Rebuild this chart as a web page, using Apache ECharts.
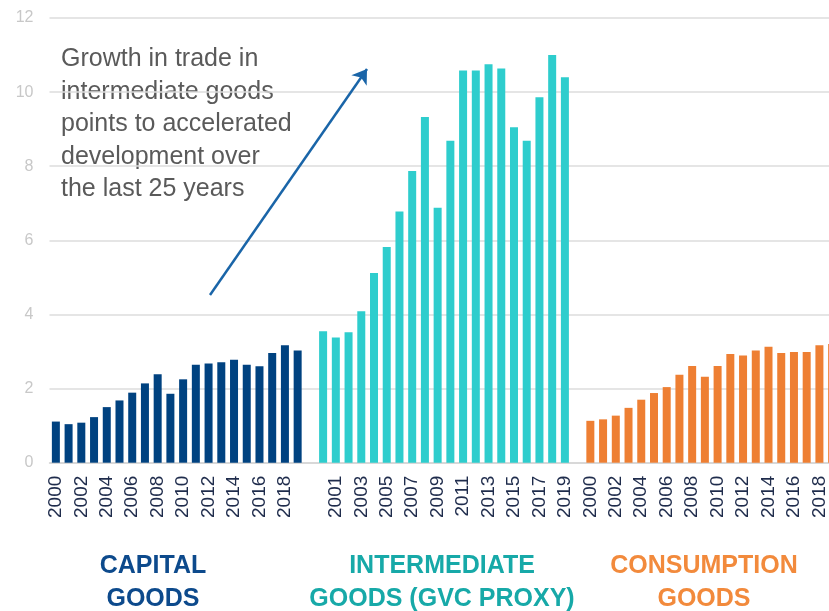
<!DOCTYPE html>
<html>
<head>
<meta charset="utf-8">
<script src="https://cdn.jsdelivr.net/npm/echarts@6/dist/echarts.min.js"></script>
<style>
  html, body { margin: 0; padding: 0; background: #fff; overflow: hidden; }
  /* wider than the window: the last bar is cut at the right edge */
  #chart { width: 842px; height: 611px; }
</style>
</head>
<body>
<div id="chart"></div>
<script>
// years on each group, 2000-2019
const years = ['2000','2001','2002','2003','2004','2005','2006','2007','2008','2009',
  '2010','2011','2012','2013','2014','2015','2016','2017','2018','2019']
// values
const capitalGoods = [1.11, 1.04, 1.08, 1.23, 1.50, 1.68, 1.89, 2.14, 2.39, 1.86,
  2.25, 2.64, 2.68, 2.71, 2.78, 2.64, 2.60, 2.96, 3.17, 3.03]
const intermediateGoods = [3.55, 3.38, 3.52, 4.09, 5.12, 5.82, 6.78, 7.87, 9.33, 6.88,
  8.69, 10.58, 10.58, 10.75, 10.64, 9.05, 8.69, 9.86, 11.0, 10.40]
const consumptionGoods = [1.13, 1.17, 1.27, 1.48, 1.70, 1.88, 2.04, 2.37, 2.61, 2.32,
  2.61, 2.93, 2.89, 3.03, 3.13, 2.96, 2.99, 2.99, 3.17, 3.20]
const yTicks = [0, 2, 4, 6, 8, 10, 12]
const groupTitles = ['CAPITAL\nGOODS', 'INTERMEDIATE\nGOODS (GVC PROXY)', 'CONSUMPTION\nGOODS']
const note = 'Growth in trade in\nintermediate goods\npoints to accelerated\ndevelopment over\nthe last 25 years'

// one category axis: group, empty slot, group, empty slot, group
const categories = [...years, '', ...years, '', ...years]
const blank = n => new Array(n).fill('-')
const capData = [...capitalGoods, ...blank(42)]
const intData = [...blank(21), ...intermediateGoods, ...blank(21)]
const conData = [...blank(42), ...consumptionGoods]

const chart = echarts.init(document.getElementById('chart'))
const font = '"Liberation Sans", Arial, sans-serif'

const barSeries = (name, data, color) => ({
  name, type: 'bar', data,
  stack: 'all',
  barWidth: 8,
  itemStyle: { color },
  silent: true,
})

// group title under the axis
const titleText = (x, text, fill) => ({
  type: 'text', x, y: 550,
  style: { text, fontSize: 25, fontWeight: 'bold', lineHeight: 32.5,
    align: 'center', fontFamily: font, fill },
})

chart.setOption({
  animation: false,
  grid: { left: 49.5, top: 18, right: 3.5, bottom: 148.3 },
  xAxis: {
    type: 'category',
    data: categories,
    axisTick: { show: false },
    axisLine: { lineStyle: { color: '#d4d4d4', width: 1.5 } },
    axisLabel: {
      interval: 1,
      rotate: 90,
      margin: 13,
      fontSize: 19,
      fontFamily: font,
      color: '#1f2c4c',
    },
  },
  yAxis: {
    type: 'value',
    min: yTicks[0],
    max: yTicks[yTicks.length - 1],
    interval: 2,
    axisLabel: { fontSize: 16, fontFamily: font, color: '#c8c8c8', margin: 16 },
    splitLine: { lineStyle: { color: '#dcdcdc', width: 1.5 } },
  },
  series: [
    barSeries('Capital goods', capData, '#004280'),
    barSeries('Intermediate goods', intData, '#2ecdcd'),
    {
      ...barSeries('Consumption goods', conData, '#ee7f33'),
      markLine: {
        silent: true,
        symbol: ['none', 'arrow'],
        symbolSize: 14,
        label: { show: false },
        lineStyle: { color: '#1a65a8', width: 2.5, type: 'solid' },
        data: [[{ x: 210, y: 295 }, { x: 367, y: 69 }]],
      },
    },
  ],
  graphic: [
    {
      type: 'text', left: 61, top: 43,
      style: { text: note, fontSize: 25, lineHeight: 32.5, fontFamily: font, fill: '#5a5a5a' },
    },
    titleText(153, groupTitles[0], '#0d4a8c'),
    titleText(442, groupTitles[1], '#17a9a8'),
    titleText(704, groupTitles[2], '#f28a3c'),
  ],
})
</script>
</body>
</html>
